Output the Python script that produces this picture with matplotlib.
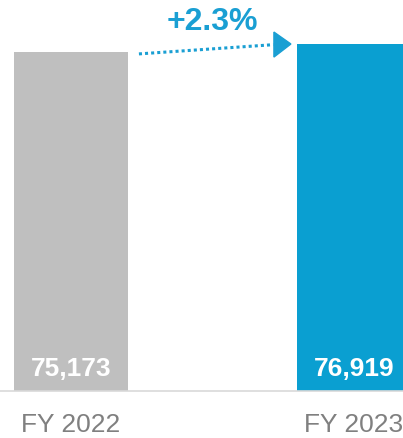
import matplotlib
matplotlib.use("Agg")
import matplotlib.pyplot as plt
from matplotlib.patches import Polygon

plt.rcParams['font.family'] = ['Liberation Sans', 'DejaVu Sans']

categories = ["FY 2022", "FY 2023"]
values = [75173, 76919]
value_labels = ["75,173", "76,919"]
growth_label = "+2.3%"
bar_colors = ["#bfbfbf", "#0a9fd1"]
accent = "#1a9fd3"

fig = plt.figure(figsize=(4.03, 4.39), dpi=100)
ax = fig.add_axes([0, 47 / 439, 1, 392 / 439])

x = [0, 1]
ax.bar(x, values, width=0.403, color=bar_colors, zorder=2)
ax.set_xlim(-0.2509, 1.1731)
ax.set_ylim(0, 86894)

for xi, lab in zip(x, value_labels):
    ax.text(xi, 3550, lab, ha='center', va='baseline', color='white',
            fontsize=19, fontweight='bold', zorder=3)

for s in ['top', 'right', 'left']:
    ax.spines[s].set_visible(False)
ax.spines['bottom'].set_color('#d9d9d9')
ax.spines['bottom'].set_linewidth(1.2)
ax.set_yticks([])
ax.set_xticks(x)
ax.set_xticklabels(categories, fontsize=19, color='#808080')
ax.tick_params(axis='x', length=0, pad=15)

# dotted growth arrow from the first bar toward the second
y0 = values[0] - 450
y1 = values[1] - 150
ax.plot([0.240, 0.715], [y0, y1], linestyle=(0, (1, 1)), color=accent,
        linewidth=2.2, solid_capstyle='butt', zorder=3)
head = Polygon([[0.717, values[1] + 2650], [0.777, values[1]], [0.717, values[1] - 2900]],
               closed=True, color=accent, zorder=3)
ax.add_patch(head)
ax.text(0.498, 80245, growth_label, ha='center', va='baseline', color=accent,
        fontsize=23, fontweight='bold')

fig.savefig("out.png", dpi=100)
